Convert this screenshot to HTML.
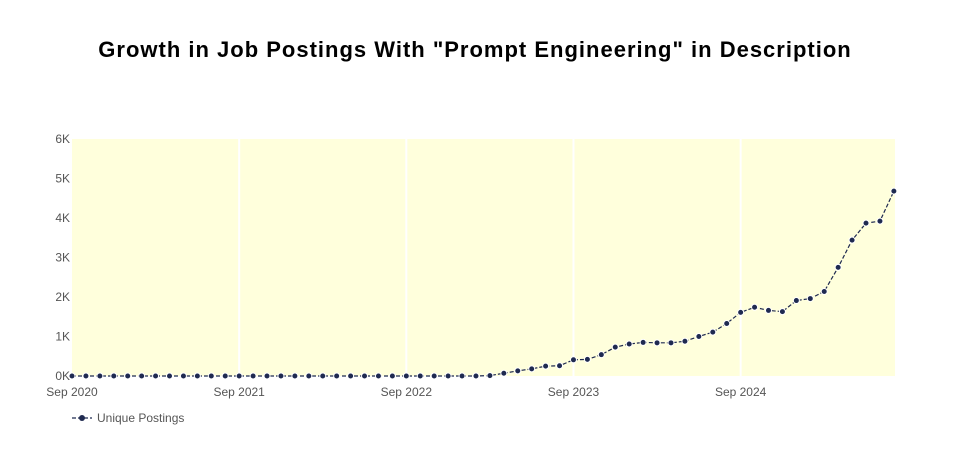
<!DOCTYPE html>
<html><head><meta charset="utf-8"><style>
body{margin:0;background:#fff;}
svg{display:block;font-family:"Liberation Sans",sans-serif;}
</style></head><body>
<svg id="chart" width="955" height="452">
<text x="475" y="57" text-anchor="middle" font-size="22" letter-spacing="1" font-weight="bold" fill="#000">Growth in Job Postings With "Prompt Engineering" in Description</text>
<rect x="72" y="139" width="823" height="237" fill="#ffffdc"/>
<g id="grid"></g>
<g id="axes"></g>
<g id="series"></g>
<g>
<line x1="72" y1="418" x2="92" y2="418" stroke="#1f2a50" stroke-width="1.2" stroke-dasharray="4,2"/>
<circle cx="82" cy="418" r="3" fill="#1f2a50"/>
<text x="97" y="422" font-size="12" fill="#555">Unique Postings</text>
</g>
</svg>
<script>
const values=[0,0,0,0,0,0,0,0,0,0,0,0,0,0,0,0,0,0,0,0,0,0,0,0,0,0,0,0,
0,0,0.01,0.07,0.13,0.18,0.25,0.26,0.41,0.42,0.54,0.73,0.81,0.85,0.84,0.84,0.88,1.0,
1.11,1.33,1.61,1.74,1.66,1.63,1.91,1.96,2.14,2.75,3.44,3.87,3.92,4.68];
const yTicks=[0,1,2,3,4,5,6];
const yTickLabels=["0K","1K","2K","3K","4K","5K","6K"];
const xTickMonths=[0,12,24,36,48];
const xTickLabels=["Sep 2020","Sep 2021","Sep 2022","Sep 2023","Sep 2024"];
const NS="http://www.w3.org/2000/svg";
const X=m=>72+m*13.93, Y=v=>376-v*39.5;
function mk(tag,attrs,parent,txt){const e=document.createElementNS(NS,tag);for(const k in attrs)e.setAttribute(k,attrs[k]);if(txt!==undefined)e.textContent=txt;document.getElementById(parent).appendChild(e);return e;}
xTickMonths.forEach((m,i)=>{
  if(i>0){const g=mk('line',{x1:X(m),x2:X(m),y1:139,y2:376,stroke:'#fff','stroke-width':2},'grid');
  
  }
  const t=mk('text',{x:X(m),y:396,'text-anchor':'middle','font-size':12,fill:'#555'},'axes',xTickLabels[i]);
  
  
});
yTicks.forEach((v,i)=>{
  const t=mk('text',{x:70,y:Y(v)+4,'text-anchor':'end','font-size':12,fill:'#555'},'axes',yTickLabels[i]);
  
  
});
const pts=values.map((v,i)=>X(i)+','+Y(v)).join(' ');
const pl=mk('polyline',{points:pts,fill:'none',stroke:'#1f2a50','stroke-width':1.2,'stroke-dasharray':'4,2'},'series');


values.forEach((v,i)=>{
  const c=mk('circle',{cx:X(i),cy:Y(v),r:3,fill:'#1f2a50',stroke:'#fff','stroke-width':1},'series');
  
  
});
</script>
</body></html>
